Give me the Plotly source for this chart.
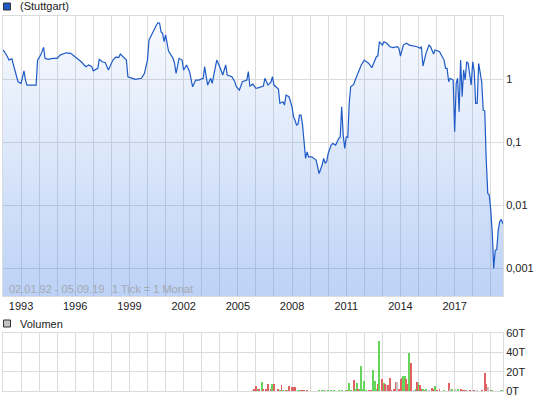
import plotly.graph_objects as go

# ---------------- data ----------------
price_dates = [
    "1992-01", "1992-02", "1992-04", "1992-05", "1992-06", "1992-07", "1992-08", "1992-09", "1992-10", "1992-11",
    "1993-01", "1993-02", "1993-03", "1993-04", "1993-05", "1993-11", "1993-12",
    "1994-02", "1994-03", "1994-04", "1994-05", "1994-07", "1994-10",
    "1995-01", "1995-03", "1995-07", "1995-10",
    "1996-01", "1996-05", "1996-08", "1996-10", "1996-12",
    "1997-01", "1997-04", "1997-05", "1997-07", "1997-09", "1997-11",
    "1998-02", "1998-04", "1998-06", "1998-07", "1998-09", "1998-11", "1998-12",
    "1999-02", "1999-05", "1999-09", "1999-11", "1999-12",
    "2000-01", "2000-02", "2000-04", "2000-05", "2000-07", "2000-08", "2000-09", "2000-10", "2000-11", "2000-12",
    "2001-01", "2001-03", "2001-06", "2001-07", "2001-08", "2001-10", "2001-12",
    "2002-01", "2002-03", "2002-05", "2002-07", "2002-09", "2002-11",
    "2003-02", "2003-03", "2003-05", "2003-07", "2003-08", "2003-11",
    "2004-01", "2004-03", "2004-05", "2004-06", "2004-09", "2004-11", "2004-12",
    "2005-02", "2005-04", "2005-07", "2005-08", "2005-09", "2005-11",
    "2006-01", "2006-03", "2006-06", "2006-07", "2006-09", "2006-11", "2006-12",
    "2007-01", "2007-04", "2007-05", "2007-07", "2007-08", "2007-09", "2007-11",
    "2008-01", "2008-02", "2008-03", "2008-04", "2008-05", "2008-06", "2008-07", "2008-08", "2008-09",
    "2008-10", "2008-11", "2008-12",
    "2009-02", "2009-04", "2009-05", "2009-06", "2009-07", "2009-09", "2009-10", "2009-11", "2009-12",
    "2010-01", "2010-03", "2010-04", "2010-06", "2010-08", "2010-09", "2010-10", "2010-11", "2010-12",
    "2011-01", "2011-02", "2011-03", "2011-04", "2011-06", "2011-07", "2011-09", "2011-11",
    "2012-01", "2012-03", "2012-04", "2012-06", "2012-07", "2012-09", "2012-10", "2012-11",
    "2013-01", "2013-02", "2013-04", "2013-06", "2013-08", "2013-11", "2013-12",
    "2014-01", "2014-03", "2014-05", "2014-07", "2014-10", "2014-12",
    "2015-02", "2015-03", "2015-04", "2015-06", "2015-08", "2015-09", "2015-11", "2015-12",
    "2016-03", "2016-06", "2016-07", "2016-08", "2016-09", "2016-10", "2016-12",
    "2017-01", "2017-02", "2017-03", "2017-04", "2017-05", "2017-06", "2017-07", "2017-08", "2017-09",
    "2017-10", "2017-12",
    "2018-01", "2018-02", "2018-03", "2018-04", "2018-05", "2018-07", "2018-08", "2018-09", "2018-10",
    "2018-11", "2018-12",
    "2019-01", "2019-02", "2019-03", "2019-04", "2019-05", "2019-06", "2019-07", "2019-08", "2019-09-05",
]
price_values = [
    2.89, 2.71, 2.26, 2.0, 2.05, 2.1, 1.67, 1.39, 1.09, 0.906,
    0.855, 1.16, 1.35, 0.964, 0.803, 0.803, 2.0,
    2.40, 2.71, 3.18, 2.13, 2.05, 2.13,
    2.13, 2.40, 2.61, 2.56,
    2.26, 1.88, 1.57, 1.67, 1.57,
    1.35, 1.48, 2.05, 1.88, 1.82, 1.39,
    2.0, 2.23, 2.21, 2.49, 2.26, 2.0, 1.09,
    1.06, 0.99, 1.03, 1.23, 1.57,
    2.0, 4.16, 5.3, 6.0, 7.2, 7.83, 7.7, 5.6, 5.3, 3.91,
    5.0, 2.78, 2.13, 1.77, 1.23, 2.13, 2.0,
    1.39, 1.67, 1.31, 0.755, 0.964, 0.964,
    1.03, 1.57, 0.803, 1.03, 0.855, 2.0,
    1.57, 1.16, 1.67, 1.16, 1.09, 0.906, 0.755,
    0.669, 0.906, 0.964, 1.31, 0.774, 0.83,
    0.712, 0.73, 0.774, 1.03, 0.803, 0.896, 1.09,
    0.803, 0.694, 0.411, 0.436, 0.387, 0.557, 0.524,
    0.363, 0.249, 0.224, 0.186, 0.193, 0.268, 0.268, 0.186, 0.108,
    0.0552, 0.0701, 0.0585,
    0.0585, 0.0552, 0.052, 0.0408, 0.0318, 0.0433, 0.0552, 0.046, 0.0488,
    0.066, 0.0898, 0.0955, 0.0898, 0.114, 0.121, 0.363, 0.129, 0.0794,
    0.121, 0.119, 0.40, 0.755, 0.82, 0.964, 1.29, 1.67,
    2.0, 1.8, 1.77, 1.51, 1.77, 2.26, 2.34, 3.91,
    3.46, 3.91, 3.69, 3.26, 3.15, 3.26, 3.07,
    2.32, 3.46, 3.69, 3.46, 3.33, 3.26,
    3.07, 3.26, 1.61, 2.56, 3.46, 3.26, 2.49, 2.89,
    2.71, 2.0, 1.48, 1.48, 0.906, 1.03, 0.964,
    0.146, 0.855, 1.03, 0.303, 2.0, 0.524, 1.39, 0.964, 1.88,
    1.77, 0.803,
    1.88, 1.31, 0.411, 0.411, 1.77, 0.906, 0.322, 0.314, 0.052,
    0.0154, 0.0145,
    0.00835, 0.00356, 0.000989, 0.00193, 0.00198, 0.00402, 0.00546, 0.00595, 0.00502,
]

# monthly volume in thousands (T); direction: +1 up month, -1 down month, 0 unchanged
vol_dates = [
    "2005-11", "2005-12", "2006-01", "2006-02", "2006-03", "2006-05", "2006-06", "2006-08", "2006-09",
    "2006-11", "2006-12", "2007-01", "2007-04", "2007-05", "2007-06", "2007-07", "2007-09", "2007-10",
    "2007-11", "2008-01", "2008-02", "2008-03", "2008-05", "2008-06", "2008-07", "2008-08", "2008-09",
    "2008-11", "2009-07", "2009-09", "2009-10", "2009-11", "2010-01", "2010-03", "2010-05", "2010-08",
    "2010-10", "2011-01", "2011-02", "2011-03", "2011-04", "2011-06", "2011-07", "2011-08", "2011-09",
    "2011-10", "2011-11", "2011-12", "2012-01", "2012-02", "2012-04", "2012-05", "2012-06", "2012-07",
    "2012-08", "2012-09", "2012-10", "2012-11", "2013-01", "2013-02", "2013-03", "2013-04", "2013-05",
    "2013-06", "2013-07", "2013-09", "2013-10", "2013-11", "2013-12", "2014-01", "2014-02", "2014-03",
    "2014-04", "2014-05", "2014-06", "2014-07", "2014-08", "2014-10", "2014-11", "2014-12", "2015-01",
    "2015-02", "2015-03", "2015-04", "2015-05", "2015-06", "2015-08", "2015-10", "2015-11", "2015-12",
    "2016-01", "2016-03", "2016-06", "2016-09", "2016-10", "2016-11", "2017-01", "2017-03", "2017-05",
    "2017-06", "2017-07", "2017-08", "2017-09", "2017-11", "2018-01", "2018-02", "2018-04", "2018-07",
    "2018-09", "2018-10", "2018-11", "2019-01", "2019-02", "2019-08", "2019-09",
]
vol_k = [
    1, 2, 5, 2, 2, 9, 2, 2, 7.5,
    2, 7, 7, 2, 1, 6, 1, 1, 1,
    5, 4, 4, 4.5, 1, 0.5, 0.5, 0.5, 0.5,
    0.5, 0.5, 0.5, 0.5, 0.3, 0.5, 0.5, 0.3, 0.5,
    0.5, 0.5, 1, 8.6, 1, 11, 2.5, 8.6, 1.5,
    2.5, 25.7, 2.5, 10, 1, 1, 1, 1, 22,
    10, 2.5, 7, 51.8, 12, 8, 7, 6, 6,
    13.7, 1, 2.5, 9.6, 9.6, 2.5, 12, 13, 15.4,
    15.4, 12, 7, 39.4, 28.5, 1, 2.5, 9, 8,
    6, 2.5, 2, 1, 2.5, 1, 3.5, 1.5, 5,
    1, 1.5, 1, 8.6, 1.5, 2.5, 2, 1.5, 1.5,
    1, 1, 1, 1, 1, 0.5, 1, 0.5, 1,
    19, 7, 4.5, 1, 0.3, 0.5, 0.5,
]
vol_dir = [
    0, -1, -1, 1, -1, 1, -1, -1, -1,
    -1, 1, -1, -1, 1, -1, 1, -1, 1,
    -1, -1, -1, -1, 1, 1, -1, -1, -1,
    -1, 1, 1, 1, 0, 1, 1, 1, 1,
    1, 1, -1, 1, 1, -1, 1, 1, -1,
    1, 1, 1, 1, 1, -1, -1, -1, 1,
    1, 1, -1, 1, -1, 1, -1, 0, -1,
    -1, -1, -1, -1, 0, -1, -1, -1, 1,
    1, -1, -1, 1, -1, 0, 1, -1, 1,
    -1, -1, 1, -1, 1, 0, -1, -1, 1,
    -1, -1, 1, -1, 0, 1, 0, 1, -1,
    -1, -1, -1, 0, -1, 0, -1, 0, -1,
    -1, -1, 0, -1, 1, 1, 1,
]

date_start, date_end = "1992-01-02", "2019-09-05"
tick_years = list(range(1993, 2020))
labelled_years = list(range(1993, 2020, 3))
price_tick_vals = [0.001, 0.01, 0.1, 1]
price_tick_text = ["0,001", "0,01", "0,1", "1"]
vol_tick_vals = [0, 20, 40, 60]
vol_tick_text = ["0T", "20T", "40T", "60T"]
series_name = "(Stuttgart)"
vol_name = "Volumen"
info_range = "02.01.92 - 05.09.19"
info_tick = "1 Tick = 1 Monat"

# ---------------- layout helpers ----------------
W, H = 545, 401
ML, MR, MT, MB = 3, 42, 16, 10
PW, PH = W - ML - MR, H - MT - MB


def px_x(x):
    return (x - ML) / PW


def px_y(y):
    return (H - MB - y) / PH


LOG_BOTTOM, LOG_TOP = -3.44, 1.0
FLOOR = 10 ** (LOG_BOTTOM - 0.2)

LINE = "#1f5bc6"
GRID = "#dcdcdc"
dir_color = {1: "#66d65a", -1: "#e06262", 0: "#c4c4c4"}

fig = go.Figure()

# baseline for the area fill
fig.add_trace(go.Scatter(
    x=[date_start, date_end], y=[FLOOR, FLOOR], mode="lines",
    line=dict(width=0, color="rgba(0,0,0,0)"), hoverinfo="skip", showlegend=False,
    xaxis="x", yaxis="y",
))
fig.add_trace(go.Scatter(
    x=price_dates, y=price_values, mode="lines", name=series_name,
    line=dict(color=LINE, width=1.2),
    fill="tonexty",
    fillgradient=dict(
        type="vertical",
        colorscale=[[0, "rgba(70,130,230,0.36)"], [1, "rgba(70,130,230,0.03)"]],
        start=10 ** LOG_BOTTOM, stop=10 ** LOG_TOP,
    ),
    showlegend=False, xaxis="x", yaxis="y",
))

fig.add_trace(go.Bar(
    x=vol_dates, y=vol_k, marker=dict(color=[dir_color[d] for d in vol_dir], line=dict(width=0)),
    width=18 * 86400000, showlegend=False, xaxis="x2", yaxis="y2",
))

tickvals = [f"{y}-01-01" for y in tick_years]
ticktext = [str(y) if y in labelled_years else "" for y in tick_years]

axis_common = dict(showgrid=True, gridcolor=GRID, gridwidth=1, zeroline=False,
                   showline=True, linecolor=GRID, linewidth=1, mirror=True, ticks="",
                   automargin=False)

fig.update_layout(
    width=W, height=H,
    margin=dict(l=ML, r=MR, t=MT, b=MB, autoexpand=False),
    paper_bgcolor="white", plot_bgcolor="white",
    font=dict(family="Liberation Sans, Arial, sans-serif", size=11, color="#222"),
    bargap=0,
    xaxis=dict(type="date", range=[date_start, date_end], tickvals=tickvals, ticktext=ticktext,
               anchor="y", tickfont=dict(size=11, color="#222"), **axis_common),
    yaxis=dict(type="log", range=[LOG_BOTTOM, LOG_TOP], domain=[px_y(296), 1.0], side="right",
               anchor="x", tickvals=price_tick_vals, ticktext=price_tick_text,
               tickfont=dict(size=11, color="#222"), **axis_common),
    xaxis2=dict(type="date", matches="x", anchor="y2", tickvals=tickvals, showticklabels=False,
                **axis_common),
    yaxis2=dict(range=[0, 60], domain=[0, px_y(333)], side="right", anchor="x2",
                tickvals=vol_tick_vals, ticktext=vol_tick_text,
                tickfont=dict(size=11, color="#222"), **axis_common),
)

# legend-like markers
fig.add_shape(type="rect", xref="paper", yref="paper",
              x0=px_x(3.5), x1=px_x(10.5), y0=px_y(10), y1=px_y(3),
              fillcolor="#1f5bc6", line=dict(color="#333", width=1))
fig.add_shape(type="rect", xref="paper", yref="paper",
              x0=px_x(3.5), x1=px_x(10.5), y0=px_y(327), y1=px_y(320),
              fillcolor="#c4c4c4", line=dict(color="#333", width=1))

fig.add_annotation(text=series_name, xref="paper", yref="paper", x=px_x(18), y=px_y(6.5),
                   xanchor="left", yanchor="middle", showarrow=False,
                   font=dict(size=11, color="#222"))
fig.add_annotation(text=vol_name, xref="paper", yref="paper", x=px_x(18), y=px_y(323.5),
                   xanchor="left", yanchor="middle", showarrow=False,
                   font=dict(size=11, color="#222"))
fig.add_annotation(text=info_range, xref="paper", yref="paper", x=px_x(7), y=px_y(289),
                   xanchor="left", yanchor="middle", showarrow=False,
                   font=dict(size=11, color="#a3a9b3"))
fig.add_annotation(text=info_tick, xref="paper", yref="paper", x=px_x(110), y=px_y(289),
                   xanchor="left", yanchor="middle", showarrow=False,
                   font=dict(size=11, color="#a3a9b3"))

fig.write_html("out.html", config={"displayModeBar": False},
               post_script="document.body.style.margin='0';")
